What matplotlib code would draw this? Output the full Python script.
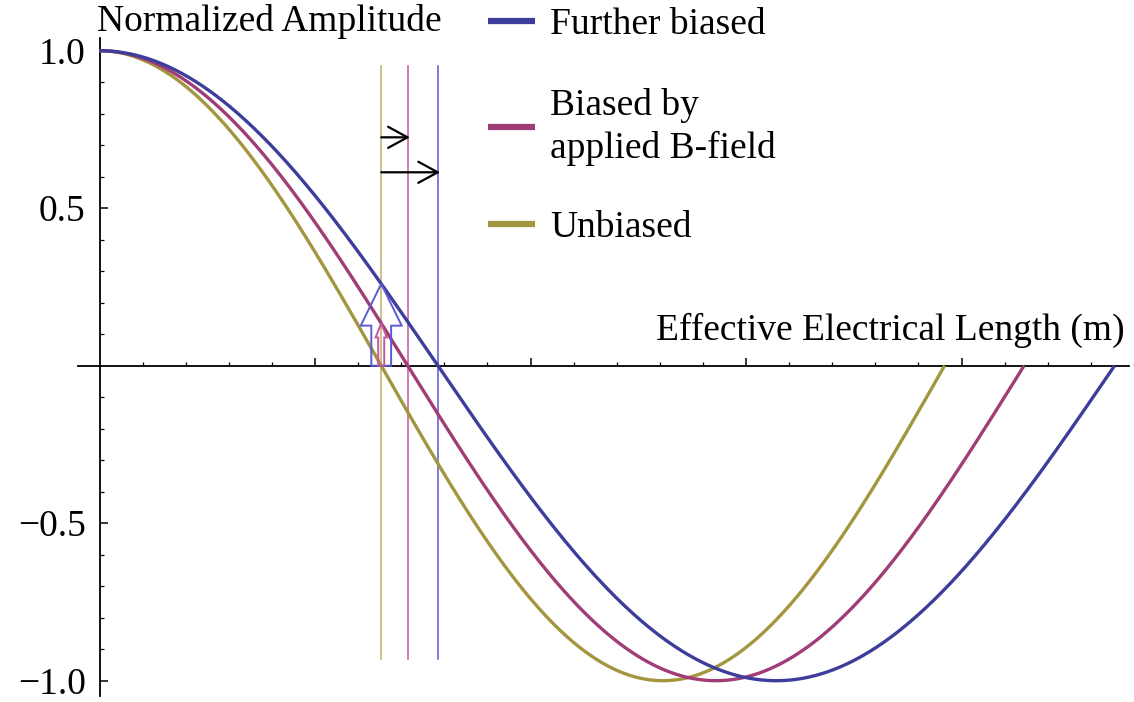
import numpy as np
import matplotlib
matplotlib.use("Agg")
import matplotlib.pyplot as plt
from matplotlib.patches import FancyArrow

# Quarter wavelengths read from the zero crossings (x axis units = major ticks)
labels = ["Further biased", "Biased by\napplied B-field", "Unbiased"]
quarter = [1.570, 1.430, 1.307]
curve_colors = ["#3d3d9c", "#a13d76", "#a3963f"]
marker_colors = ["#5a5ad2", "#c4589a", "#bfb26a"]

plt.rcParams["font.family"] = ["Liberation Serif", "DejaVu Serif"]
fs = 27

fig = plt.figure(figsize=(11.34, 7.02), dpi=100)
ax = fig.add_axes([0, 0, 1, 1])
ax.set_facecolor("white")

# pixel mapping of the reference: origin at (100, 366)
px_x = 216.5
px_y = 315.0
ax.set_xlim(-100 / px_x, 1034 / px_x)
ax.set_ylim(-(702 - 365.7) / px_y, 365.7 / px_y)

# curves, unbiased first so blue ends up on top
for q, c, lab in list(zip(quarter, curve_colors, labels))[::-1]:
    x = np.linspace(0, 3 * q, 500)
    ax.plot(x, np.cos(np.pi / 2 * x / q), color=c, lw=2.4, label=lab,
            solid_capstyle="butt", zorder=3)

# thin vertical markers at the zero crossings
for q, c in zip(quarter, marker_colors):
    ax.plot([q, q], [-0.931, 0.951], color=c, lw=1.1, zorder=2)

# black shift arrows
q0 = quarter[2]
for q, yy in [(quarter[1], 0.725), (quarter[0], 0.614)]:
    ax.annotate("", xy=(q + 0.01, yy), xytext=(q0, yy),
                arrowprops=dict(arrowstyle="->,head_length=0.7,head_width=0.38",
                                color="black", lw=1.6, mutation_scale=20,
                                shrinkA=0, shrinkB=0), zorder=5)

# hollow up-arrows: amplitude at the unbiased zero crossing
tip_blue = np.cos(np.pi / 2 * q0 / quarter[0])
tip_pink = np.cos(np.pi / 2 * q0 / quarter[1])
ax.add_patch(FancyArrow(q0, 0, 0, tip_blue, width=0.092, head_width=0.19,
                        head_length=0.133, length_includes_head=True,
                        fill=False, edgecolor=marker_colors[0], lw=1.4, zorder=4))
ax.add_patch(FancyArrow(q0, 0, 0, tip_pink, width=0.028, head_width=0.052,
                        head_length=0.045, length_includes_head=True,
                        fill=False, edgecolor=marker_colors[1], lw=1.4, zorder=4))

# axes through the origin, Mathematica style
for s in ["top", "right"]:
    ax.spines[s].set_visible(False)
ax.spines["left"].set_position(("data", 0))
ax.spines["bottom"].set_position(("data", 0))
ax.spines["left"].set_bounds(-1.047, 1.04)
ax.spines["bottom"].set_bounds(-0.102, 1034 / px_x)
for s in ["left", "bottom"]:
    ax.spines[s].set_linewidth(1.3)
    ax.spines[s].set_zorder(1)

ax.set_xticks([1, 2, 3, 4])
ax.set_xticks([v for v in np.arange(0.2, 4.85, 0.2) if abs(v - round(v)) > 0.01], minor=True)
ax.set_xticklabels([])
ax.set_yticks([-1.0, -0.5, 0.5, 1.0])
ax.set_yticklabels(["\u22121.0", "\u22120.5", "0.5", "1.0"])
ax.set_yticks([v for v in np.arange(-1.0, 1.01, 0.1) if abs(v * 2 - round(v * 2)) > 0.01], minor=True)
ax.tick_params(which="major", direction="in", length=5.5, width=1.1, labelsize=fs, pad=10)
ax.tick_params(which="minor", direction="in", length=3.2, width=0.9)

ax.text(-0.01, (365.7 - 31) / px_y, "Normalized Amplitude", fontsize=fs,
        ha="left", va="baseline")
ax.text(1130 / px_x - 100 / px_x, (365.7 - 340) / px_y,
        "Effective Electrical Length (m)", fontsize=fs, ha="right", va="baseline")

h, l = ax.get_legend_handles_labels()
leg = fig.legend(h[::-1], l[::-1], loc="upper left",
                 bbox_to_anchor=(488 / 1134, 1.0 - 8 / 702),
                 frameon=False, fontsize=fs, handlelength=1.25, handletextpad=0.4,
                 labelspacing=1.2, borderpad=0.0, borderaxespad=0.0)
for line in leg.get_lines():
    line.set_linewidth(4.5)
for t in leg.get_texts():
    t.set_linespacing(1.3)

fig.savefig("out.png", dpi=100)
